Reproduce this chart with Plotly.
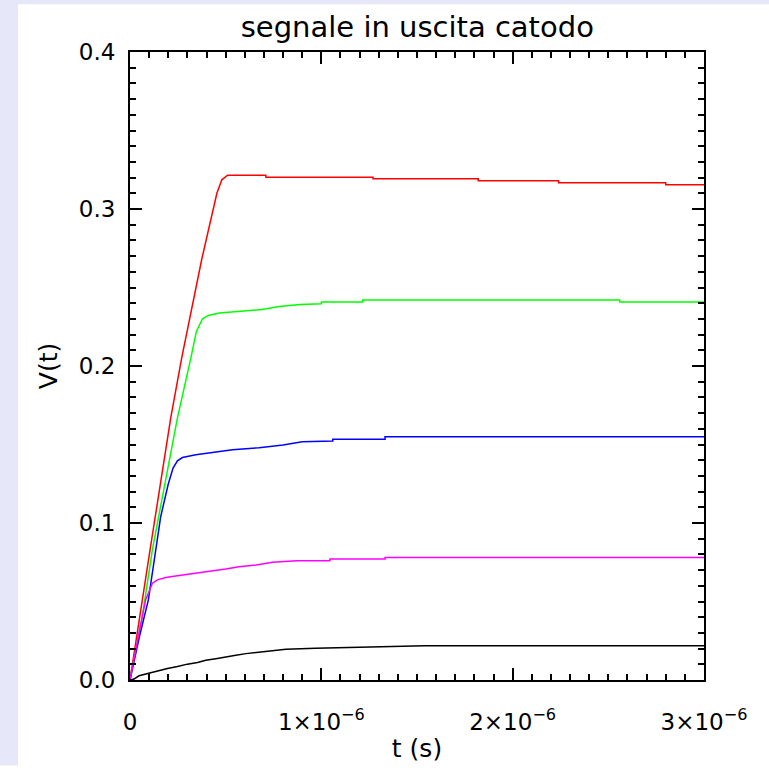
import plotly.graph_objects as go

# time in microseconds, voltage in V
t_red = [0, 0.02, 0.105, 0.213, 0.27, 0.375, 0.414, 0.454, 0.48, 0.51, 0.71, 0.71, 1.27, 1.27, 1.82, 1.82, 2.24, 2.24, 2.80, 2.80, 3.0]
v_red = [0, 0.016, 0.083, 0.167, 0.205, 0.268, 0.289, 0.31, 0.3186, 0.3215, 0.3215, 0.3203, 0.3203, 0.3192, 0.3192, 0.3180, 0.3180, 0.3167, 0.3167, 0.3154, 0.3154]

t_green = [0, 0.065, 0.117, 0.248, 0.318, 0.347, 0.379, 0.41, 0.466, 0.553, 0.69, 0.78, 0.89, 1.0, 1.0, 1.216, 1.216, 2.56, 2.56, 3.0]
v_green = [0, 0.041, 0.083, 0.167, 0.205, 0.222, 0.2301, 0.2322, 0.2337, 0.2347, 0.236, 0.2379, 0.2392, 0.2396, 0.2407, 0.2407, 0.242, 0.242, 0.2407, 0.2407]

t_blue = [0, 0.05, 0.096, 0.134, 0.16, 0.2, 0.225, 0.248, 0.274, 0.344, 0.43, 0.536, 0.675, 0.80, 0.90, 1.06, 1.06, 1.333, 1.333, 3.0]
v_blue = [0, 0.028, 0.051, 0.0827, 0.1038, 0.1248, 0.135, 0.1396, 0.1417, 0.1434, 0.1449, 0.1466, 0.148, 0.1497, 0.1518, 0.1522, 0.1533, 0.1533, 0.155, 0.155]

t_mag = [0, 0.026, 0.047, 0.082, 0.117, 0.143, 0.187, 0.239, 0.309, 0.361, 0.42, 0.5, 0.57, 0.66, 0.745, 0.87, 1.045, 1.045, 1.333, 1.333, 3.0]
v_mag = [0, 0.0154, 0.030, 0.0512, 0.0617, 0.0638, 0.0653, 0.0663, 0.0674, 0.0684, 0.0695, 0.0707, 0.0722, 0.0733, 0.075, 0.076, 0.076, 0.0771, 0.0771, 0.0781, 0.0781]

t_black = [0, 0.021, 0.047, 0.1, 0.152, 0.196, 0.248, 0.3, 0.353, 0.396, 0.449, 0.501, 0.553, 0.606, 0.658, 0.71, 0.763, 0.815, 0.97, 1.22, 1.54, 3.0]
v_black = [0, 0.0006, 0.0027, 0.0044, 0.0059, 0.0073, 0.0086, 0.0101, 0.0111, 0.0126, 0.0136, 0.0149, 0.0158, 0.0168, 0.0174, 0.0183, 0.0189, 0.0196, 0.0203, 0.021, 0.0218, 0.0218]

x_tickvals = [0, 1e-6, 2e-6, 3e-6]
x_ticktext = ["0", "1×10<sup>−6</sup>", "2×10<sup>−6</sup>", "3×10<sup>−6</sup>"]
y_tickvals = [0.0, 0.1, 0.2, 0.3, 0.4]
y_ticktext = ["0.0", "0.1", "0.2", "0.3", "0.4"]

series = [
    (t_red, v_red, "#FF0000"),
    (t_green, v_green, "#00FF00"),
    (t_blue, v_blue, "#0000FF"),
    (t_mag, v_mag, "#FF00FF"),
    (t_black, v_black, "#000000"),
]

FONT = "DejaVu Sans ExtraLight, DejaVu Sans, sans-serif"

fig = go.Figure()
for t, v, c in series:
    fig.add_trace(go.Scatter(
        x=[ti * 1e-6 for ti in t], y=v, mode="lines",
        line=dict(color=c, width=1.5), showlegend=False, hoverinfo="skip"))

fig.update_layout(
    width=769, height=770,
    margin=dict(l=130, r=65, t=52, b=86),
    paper_bgcolor="white", plot_bgcolor="white",
    font=dict(family=FONT, color="black", size=23),
    title=dict(text="segnale in uscita catodo", x=0.5427, xanchor="center",
               xref="container", yref="container", y=0.965, yanchor="middle",
               font=dict(family=FONT, size=29, color="black")),
    shapes=[
        dict(type="rect", xref="paper", yref="paper", layer="below",
             x0=-130 / 574, x1=(18 - 130) / 574, y0=-86 / 632, y1=(684) / 632 + 0.1,
             fillcolor="#E6E8FA", line=dict(width=0)),
        dict(type="rect", xref="paper", yref="paper", layer="below",
             x0=-130 / 574, x1=(769 - 130) / 574, y0=(684 - 4) / 632, y1=684 / 632 + 0.01,
             fillcolor="#E6E8FA", line=dict(width=0)),
    ],
)

fig.update_xaxes(
    range=[0, 3e-6], tickvals=x_tickvals, ticktext=x_ticktext,
    showgrid=False, zeroline=False, showline=True, linecolor="black", linewidth=2,
    mirror="allticks", ticks="inside", ticklen=12, tickwidth=1.5, tickcolor="black",
    ticklabelstandoff=20,
    minor=dict(ticks="inside", dtick=1e-7, tick0=0, ticklen=6, tickwidth=1.5, tickcolor="black", showgrid=False),
    title=dict(text="t (s)", standoff=6, font=dict(family=FONT, size=25)),
    tickfont=dict(family=FONT, size=23),
)
fig.update_yaxes(
    range=[0, 0.4], tickvals=y_tickvals, ticktext=y_ticktext,
    showgrid=False, zeroline=False, showline=True, linecolor="black", linewidth=2,
    mirror="allticks", ticks="inside", ticklen=12, tickwidth=1.5, tickcolor="black",
    ticklabelstandoff=8,
    minor=dict(ticks="inside", dtick=0.01, tick0=0, ticklen=6, tickwidth=1.5, tickcolor="black", showgrid=False),
    title=dict(text="V(t)", standoff=14, font=dict(family=FONT, size=25)),
    tickfont=dict(family=FONT, size=23),
)

fig.write_html("out.html")
